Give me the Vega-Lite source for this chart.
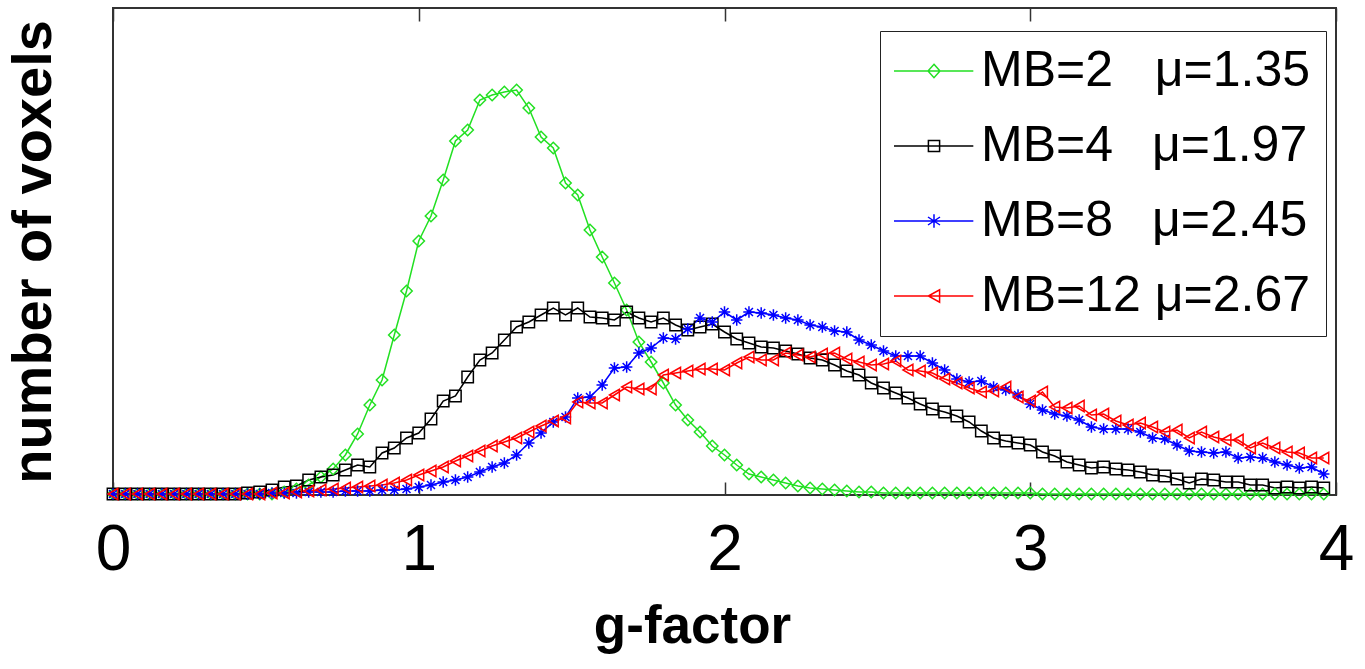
{
  "$schema": "https://vega.github.io/schema/vega-lite/v6.json",
  "width": 1223,
  "height": 487,
  "autosize": "none",
  "padding": {"left": 113, "top": 8, "right": 29, "bottom": 174},
  "background": "white",
  "config": {"view": {"stroke": "#333", "strokeWidth": 2}, "font": "Liberation Sans"},
  "data": {"values": [
    {"x":0,"MB=2":1,"MB=4":1,"MB=8":1,"MB=12":1},
    {"x":0.04,"MB=2":1,"MB=4":1,"MB=8":1,"MB=12":1},
    {"x":0.08,"MB=2":1,"MB=4":1,"MB=8":1,"MB=12":1},
    {"x":0.12,"MB=2":1,"MB=4":1,"MB=8":1,"MB=12":1},
    {"x":0.16,"MB=2":1,"MB=4":1,"MB=8":1,"MB=12":1},
    {"x":0.2,"MB=2":1,"MB=4":1,"MB=8":1,"MB=12":1},
    {"x":0.24,"MB=2":1,"MB=4":1,"MB=8":1,"MB=12":1},
    {"x":0.28,"MB=2":1,"MB=4":1,"MB=8":1,"MB=12":1},
    {"x":0.32,"MB=2":1,"MB=4":1,"MB=8":1,"MB=12":1},
    {"x":0.36,"MB=2":1,"MB=4":1,"MB=8":1,"MB=12":1},
    {"x":0.4,"MB=2":1,"MB=4":1,"MB=8":1,"MB=12":1},
    {"x":0.44,"MB=2":1,"MB=4":2,"MB=8":1,"MB=12":1},
    {"x":0.48,"MB=2":1,"MB=4":3,"MB=8":1,"MB=12":1},
    {"x":0.52,"MB=2":1,"MB=4":5,"MB=8":2,"MB=12":2},
    {"x":0.56,"MB=2":3,"MB=4":8,"MB=8":2,"MB=12":2},
    {"x":0.6,"MB=2":6,"MB=4":9,"MB=8":2,"MB=12":3},
    {"x":0.64,"MB=2":10,"MB=4":15,"MB=8":3,"MB=12":4},
    {"x":0.68,"MB=2":18,"MB=4":18,"MB=8":3,"MB=12":5},
    {"x":0.72,"MB=2":26,"MB=4":20,"MB=8":3,"MB=12":6},
    {"x":0.76,"MB=2":40,"MB=4":25,"MB=8":4,"MB=12":7},
    {"x":0.8,"MB=2":61,"MB=4":30,"MB=8":4,"MB=12":8},
    {"x":0.84,"MB=2":90,"MB=4":28,"MB=8":4,"MB=12":9},
    {"x":0.88,"MB=2":115,"MB=4":42,"MB=8":5,"MB=12":10},
    {"x":0.92,"MB=2":160,"MB=4":47,"MB=8":5,"MB=12":12},
    {"x":0.96,"MB=2":204,"MB=4":57,"MB=8":6,"MB=12":15},
    {"x":1,"MB=2":254,"MB=4":62,"MB=8":8,"MB=12":20},
    {"x":1.04,"MB=2":279,"MB=4":76,"MB=8":10,"MB=12":24},
    {"x":1.08,"MB=2":315,"MB=4":94,"MB=8":13,"MB=12":28},
    {"x":1.12,"MB=2":354,"MB=4":99,"MB=8":15,"MB=12":34},
    {"x":1.16,"MB=2":365,"MB=4":118,"MB=8":18,"MB=12":39},
    {"x":1.2,"MB=2":395,"MB=4":135,"MB=8":23,"MB=12":44},
    {"x":1.24,"MB=2":400,"MB=4":142,"MB=8":28,"MB=12":49},
    {"x":1.28,"MB=2":403,"MB=4":155,"MB=8":32,"MB=12":53},
    {"x":1.32,"MB=2":405,"MB=4":168,"MB=8":40,"MB=12":57},
    {"x":1.36,"MB=2":387,"MB=4":173,"MB=8":52,"MB=12":63},
    {"x":1.4,"MB=2":358,"MB=4":180,"MB=8":62,"MB=12":69},
    {"x":1.44,"MB=2":347,"MB=4":187,"MB=8":73,"MB=12":74},
    {"x":1.48,"MB=2":312,"MB=4":180,"MB=8":78,"MB=12":77},
    {"x":1.52,"MB=2":300,"MB=4":187,"MB=8":97,"MB=12":93},
    {"x":1.56,"MB=2":265,"MB=4":178,"MB=8":98,"MB=12":92},
    {"x":1.6,"MB=2":238,"MB=4":177,"MB=8":110,"MB=12":92},
    {"x":1.64,"MB=2":212,"MB=4":175,"MB=8":127,"MB=12":100},
    {"x":1.68,"MB=2":185,"MB=4":183,"MB=8":128,"MB=12":108},
    {"x":1.72,"MB=2":153,"MB=4":177,"MB=8":142,"MB=12":106},
    {"x":1.76,"MB=2":133,"MB=4":173,"MB=8":147,"MB=12":106},
    {"x":1.8,"MB=2":112,"MB=4":177,"MB=8":157,"MB=12":120},
    {"x":1.84,"MB=2":90,"MB=4":170,"MB=8":156,"MB=12":122},
    {"x":1.88,"MB=2":75,"MB=4":165,"MB=8":166,"MB=12":124},
    {"x":1.92,"MB=2":63,"MB=4":168,"MB=8":177,"MB=12":126},
    {"x":1.96,"MB=2":49,"MB=4":171,"MB=8":173,"MB=12":126},
    {"x":2,"MB=2":40,"MB=4":163,"MB=8":183,"MB=12":125},
    {"x":2.04,"MB=2":30,"MB=4":156,"MB=8":175,"MB=12":132},
    {"x":2.08,"MB=2":21,"MB=4":152,"MB=8":183,"MB=12":138},
    {"x":2.12,"MB=2":18,"MB=4":148,"MB=8":182,"MB=12":135},
    {"x":2.16,"MB=2":15,"MB=4":147,"MB=8":180,"MB=12":135},
    {"x":2.2,"MB=2":12,"MB=4":144,"MB=8":177,"MB=12":142},
    {"x":2.24,"MB=2":9,"MB=4":141,"MB=8":175,"MB=12":140},
    {"x":2.28,"MB=2":7,"MB=4":137,"MB=8":170,"MB=12":138},
    {"x":2.32,"MB=2":6,"MB=4":135,"MB=8":168,"MB=12":141},
    {"x":2.36,"MB=2":5,"MB=4":130,"MB=8":164,"MB=12":142},
    {"x":2.4,"MB=2":4,"MB=4":124,"MB=8":163,"MB=12":136},
    {"x":2.44,"MB=2":3,"MB=4":120,"MB=8":155,"MB=12":133},
    {"x":2.48,"MB=2":3,"MB=4":112,"MB=8":150,"MB=12":130},
    {"x":2.52,"MB=2":2,"MB=4":107,"MB=8":144,"MB=12":131},
    {"x":2.56,"MB=2":2,"MB=4":102,"MB=8":139,"MB=12":134},
    {"x":2.6,"MB=2":2,"MB=4":97,"MB=8":139,"MB=12":125},
    {"x":2.64,"MB=2":2,"MB=4":91,"MB=8":139,"MB=12":124},
    {"x":2.68,"MB=2":2,"MB=4":86,"MB=8":132,"MB=12":122},
    {"x":2.72,"MB=2":2,"MB=4":83,"MB=8":125,"MB=12":116},
    {"x":2.76,"MB=2":2,"MB=4":79,"MB=8":116,"MB=12":112},
    {"x":2.8,"MB=2":2,"MB=4":73,"MB=8":113,"MB=12":107},
    {"x":2.84,"MB=2":2,"MB=4":64,"MB=8":114,"MB=12":103},
    {"x":2.88,"MB=2":2,"MB=4":57,"MB=8":108,"MB=12":104},
    {"x":2.92,"MB=2":2,"MB=4":54,"MB=8":105,"MB=12":108},
    {"x":2.96,"MB=2":2,"MB=4":52,"MB=8":100,"MB=12":98},
    {"x":3,"MB=2":2,"MB=4":50,"MB=8":91,"MB=12":94},
    {"x":3.04,"MB=2":1,"MB=4":43,"MB=8":85,"MB=12":103},
    {"x":3.08,"MB=2":1,"MB=4":39,"MB=8":81,"MB=12":88},
    {"x":3.12,"MB=2":1,"MB=4":33,"MB=8":79,"MB=12":87},
    {"x":3.16,"MB=2":1,"MB=4":30,"MB=8":75,"MB=12":89},
    {"x":3.2,"MB=2":1,"MB=4":27,"MB=8":68,"MB=12":80},
    {"x":3.24,"MB=2":1,"MB=4":28,"MB=8":66,"MB=12":81},
    {"x":3.28,"MB=2":1,"MB=4":26,"MB=8":66,"MB=12":74},
    {"x":3.32,"MB=2":1,"MB=4":25,"MB=8":66,"MB=12":70},
    {"x":3.36,"MB=2":1,"MB=4":23,"MB=8":63,"MB=12":72},
    {"x":3.4,"MB=2":1,"MB=4":20,"MB=8":57,"MB=12":68},
    {"x":3.44,"MB=2":1,"MB=4":19,"MB=8":56,"MB=12":63},
    {"x":3.48,"MB=2":1,"MB=4":16,"MB=8":50,"MB=12":65},
    {"x":3.52,"MB=2":1,"MB=4":12,"MB=8":44,"MB=12":57},
    {"x":3.56,"MB=2":1,"MB=4":16,"MB=8":43,"MB=12":63},
    {"x":3.6,"MB=2":1,"MB=4":15,"MB=8":42,"MB=12":58},
    {"x":3.64,"MB=2":1,"MB=4":13,"MB=8":43,"MB=12":55},
    {"x":3.68,"MB=2":1,"MB=4":13,"MB=8":37,"MB=12":55},
    {"x":3.72,"MB=2":1,"MB=4":10,"MB=8":38,"MB=12":47},
    {"x":3.76,"MB=2":1,"MB=4":10,"MB=8":37,"MB=12":52},
    {"x":3.8,"MB=2":1,"MB=4":7,"MB=8":33,"MB=12":47},
    {"x":3.84,"MB=2":1,"MB=4":8,"MB=8":30,"MB=12":43},
    {"x":3.88,"MB=2":1,"MB=4":7,"MB=8":27,"MB=12":42},
    {"x":3.92,"MB=2":1,"MB=4":8,"MB=8":28,"MB=12":37},
    {"x":3.96,"MB=2":1,"MB=4":7,"MB=8":21,"MB=12":37}
  ]},
  "transform": [{"fold": ["MB=2", "MB=4", "MB=8", "MB=12"], "as": ["series", "value"]}],
  "layer": [
    {
      "mark": {"type": "line", "strokeWidth": 1.5},
      "encoding": {
        "x": {"field": "x", "type": "quantitative",
          "scale": {"domain": [0, 4], "nice": false, "zero": false},
          "axis": {"orient": "bottom", "values": [0, 1, 2, 3, 4], "tickSize": -13, "tickColor": "#333", "tickWidth": 1.5,
            "domain": false, "grid": false, "labelFlush": false, "labelFontSize": 64, "labelFont": "Liberation Sans",
            "labelColor": "black", "labelPadding": 36, "format": "d",
            "title": "g-factor", "titleFontSize": 53, "titleFont": "Liberation Sans", "titleFontWeight": "bold",
            "titleColor": "black", "titlePadding": 18, "titleX": 579}},
        "y": {"field": "value", "type": "quantitative",
          "scale": {"domain": [0, 487], "nice": false},
          "axis": {"title": "number of voxels", "titleFontSize": 56, "titleFont": "Liberation Sans", "titleFontWeight": "bold",
            "titleColor": "black", "labels": false, "ticks": false, "domain": false, "grid": false, "titlePadding": 51}},
        "color": {"field": "series", "type": "nominal",
          "scale": {"domain": ["MB=2", "MB=4", "MB=8", "MB=12"], "range": ["#22e022", "#000000", "#0000ff", "#ff0000"]},
          "legend": {"orient": "none", "legendX": 767, "legendY": 23, "title": null, "padding": 15,
            "strokeColor": "#222", "fillColor": "white", "labelFontSize": 50, "labelFont": "Liberation Sans",
            "labelColor": "black", "labelLimit": 0, "symbolSize": 711, "symbolStrokeWidth": 1.5, "labelOffset": 36, "rowPadding": 25,
            "labelExpr": "datum.label == 'MB=2' ? 'MB=2\u00a0\u00a0\u00a0μ=1.35' : datum.label == 'MB=4' ? 'MB=4\u2002\u00a0μ=1.97' : datum.label == 'MB=8' ? 'MB=8\u2002\u00a0μ=2.45' : 'MB=12\u00a0μ=2.67'",
            "encode": {"symbols": {"update": {
              "shape": {"signal": "datum.value == 'MB=2' ? 'M-1.95,0H4M1.05,-0.5L1.5,0L1.05,0.5L0.6,0Z' : datum.value == 'MB=4' ? 'M-1.95,0H4M0.63,-0.42H1.47V0.42H0.63Z' : datum.value == 'MB=8' ? 'M-1.95,0H4M1.05,-0.5V0.5M0.6,-0.3L1.5,0.3M0.6,0.3L1.5,-0.3' : 'M-1.95,0H4M0.63,0L1.47,-0.46V0.46Z'"},
              "fill": {"value": "transparent"},
              "strokeWidth": {"value": 1.5}}}}}}
      }
    },
    {
      "mark": {"type": "point", "filled": false, "strokeWidth": 1.5, "size": 130, "opacity": 1},
      "encoding": {
        "x": {"field": "x", "type": "quantitative",
          "axis": {"orient": "top", "values": [0, 1, 2, 3, 4], "tickSize": -13, "tickColor": "#333", "tickWidth": 1.5,
            "labels": false, "domain": false, "grid": false, "title": null}},
        "y": {"field": "value", "type": "quantitative"},
        "color": {"field": "series", "type": "nominal", "legend": null},
        "shape": {"field": "series", "type": "nominal", "legend": null,
          "scale": {"domain": ["MB=12", "MB=8", "MB=4", "MB=2"],
            "range": ["triangle-left", "M0,-1V1M-1,0H1M-0.7,-0.7L0.7,0.7M-0.7,0.7L0.7,-0.7", "square", "diamond"]}}
      }
    }
  ],
  "resolve": {"axis": {"x": "independent"}}
}
